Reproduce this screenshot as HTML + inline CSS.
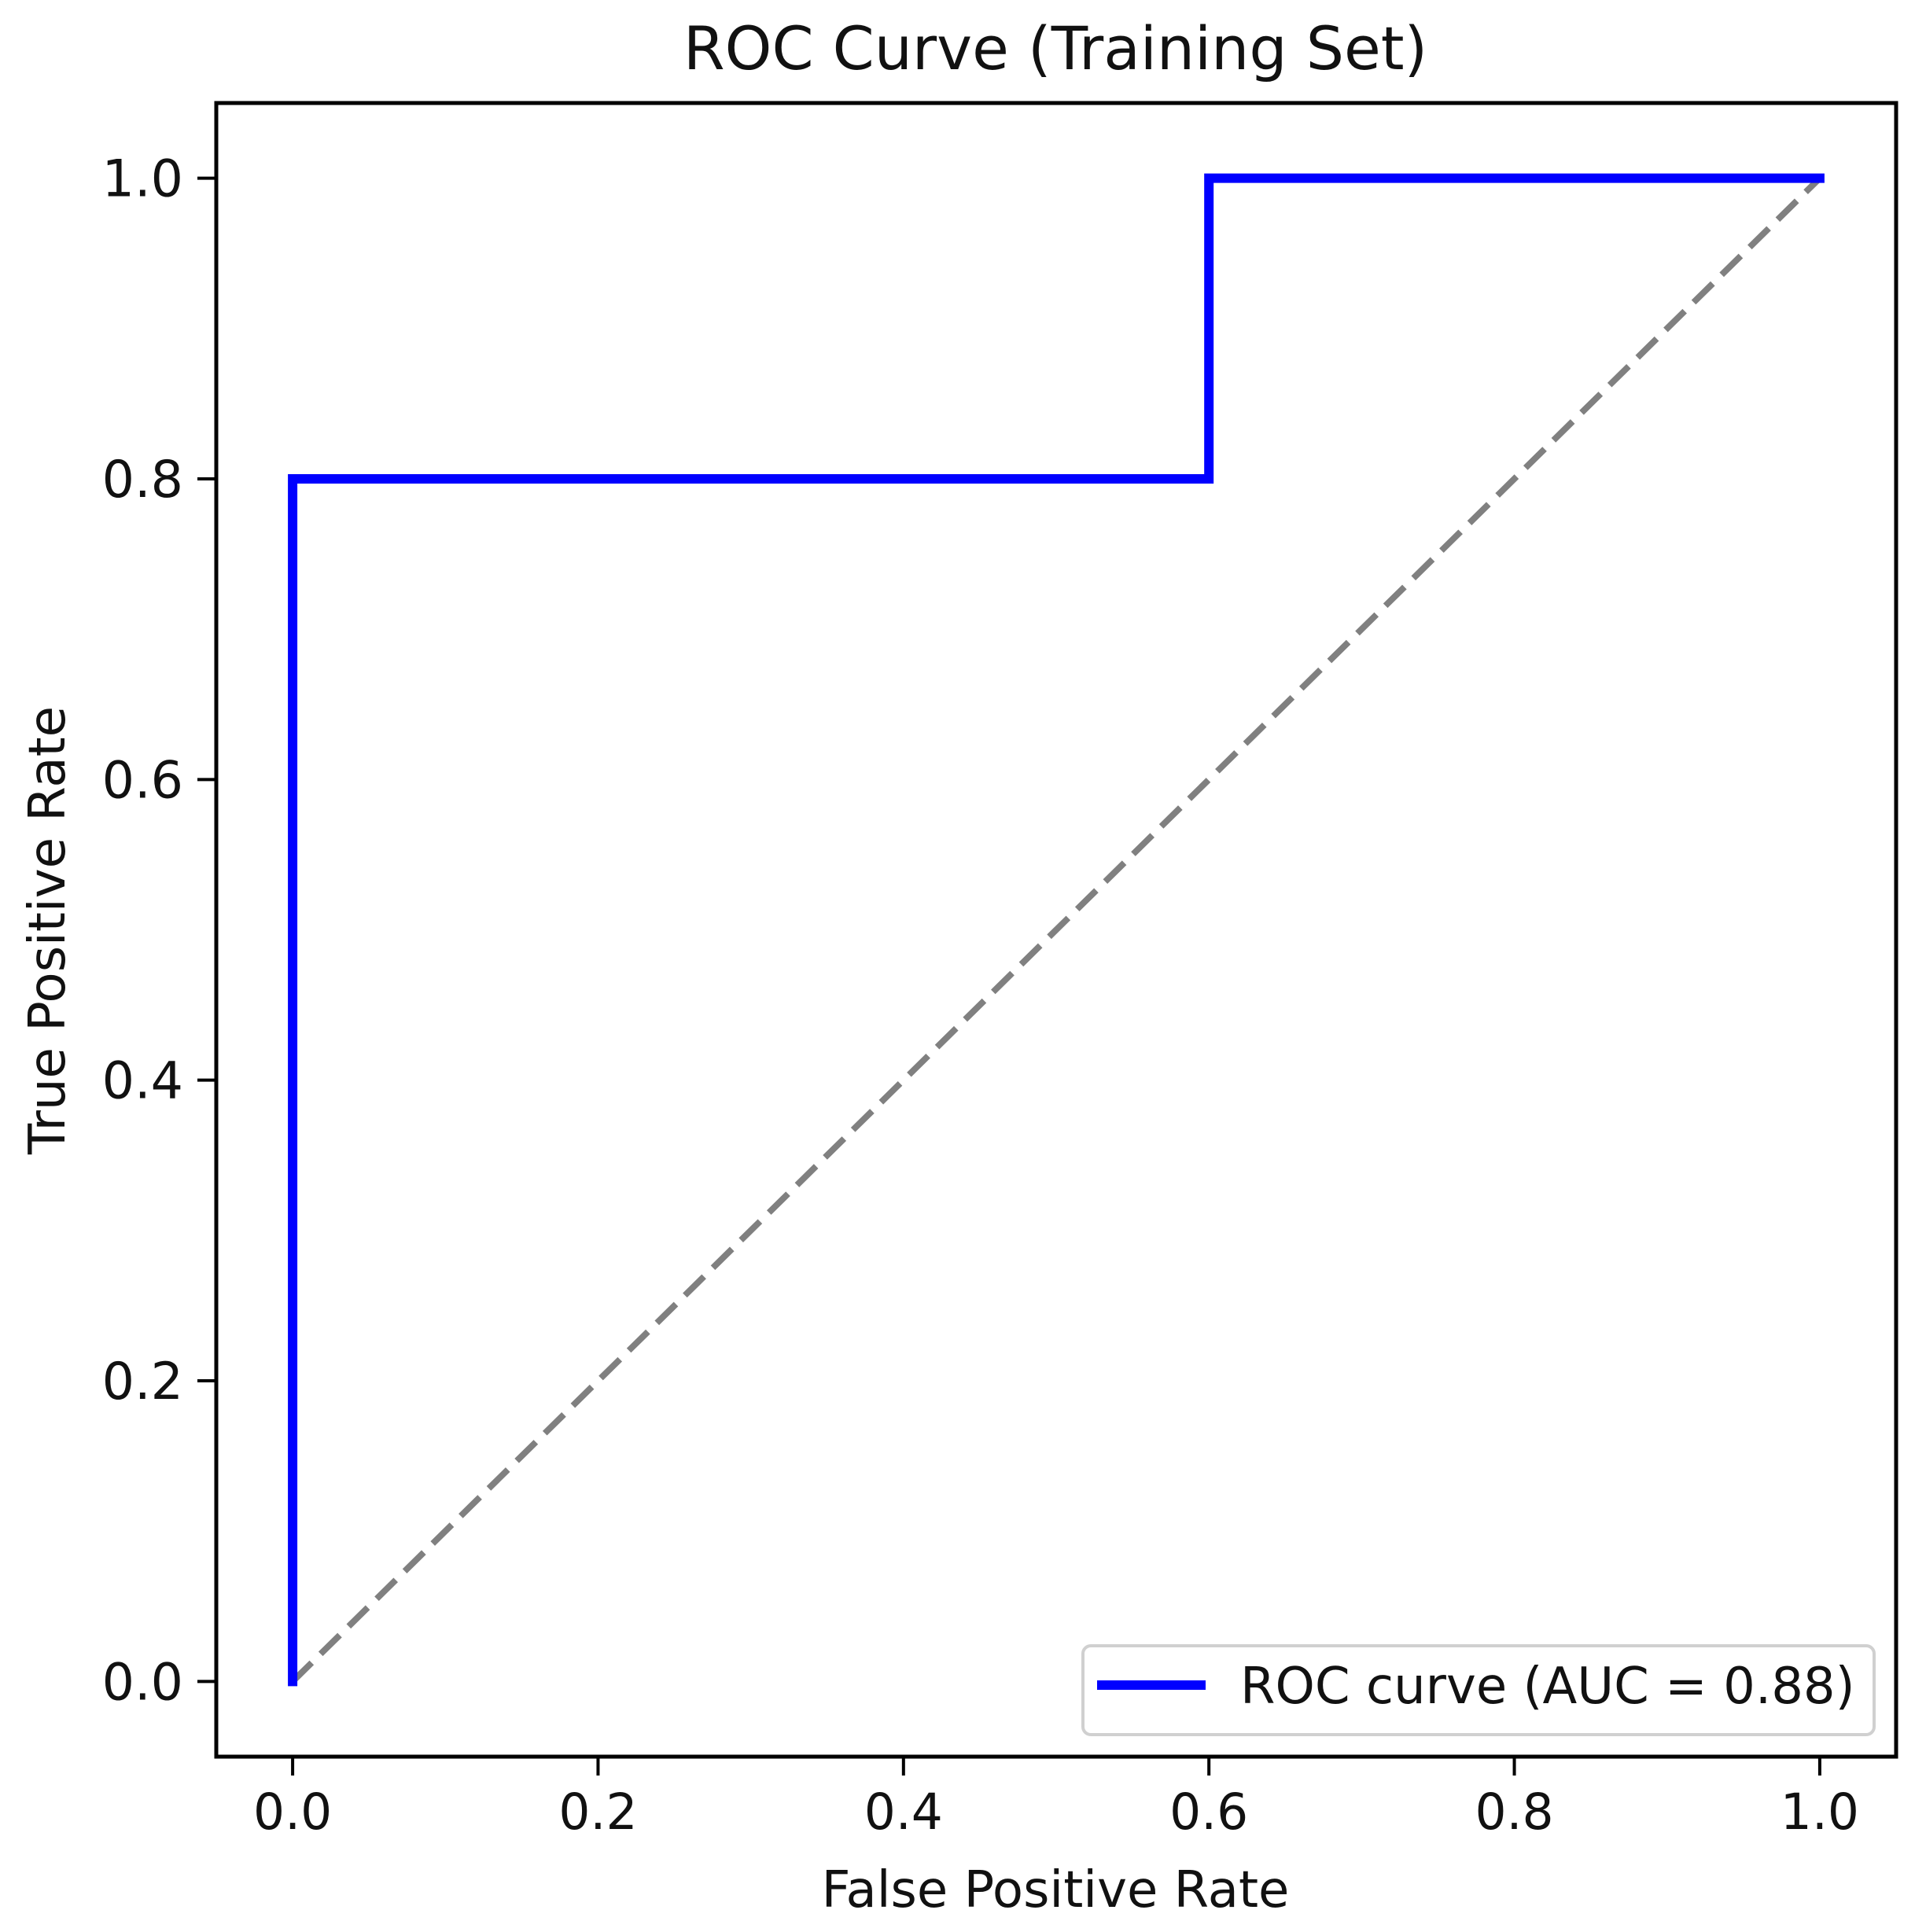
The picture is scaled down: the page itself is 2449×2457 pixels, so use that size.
<!DOCTYPE html>
<html><head><meta charset="utf-8"><style>
html,body{margin:0;padding:0;background:#fff;}
svg{display:block;font-family:"DejaVu Sans","Liberation Sans",sans-serif;}
</style></head><body>
<svg id="chart" width="2449" height="2457" viewBox="0 0 2449 2457">
<rect width="2449" height="2457" fill="#fff"/>
<text x="1342" y="88" font-size="76" text-anchor="middle" fill="#111">ROC Curve (Training Set)</text>
<g id="plot"></g>
<text x="1342" y="2425" font-size="64" text-anchor="middle" fill="#111">False Positive Rate</text>
<text transform="translate(82,1183) rotate(-90)" font-size="64" text-anchor="middle" fill="#111">True Positive Rate</text>
</svg>
<script>
const fpr = [0, 0, 0.6, 0.6, 1.0];
const tpr = [0, 0.8, 0.8, 1.0, 1.0];
const xTicks = [0, 0.2, 0.4, 0.6, 0.8, 1.0];
const yTicks = [0, 0.2, 0.4, 0.6, 0.8, 1.0];
const xTickLabels = ["0.0","0.2","0.4","0.6","0.8","1.0"];
const yTickLabels = ["0.0","0.2","0.4","0.6","0.8","1.0"];
const legendLabel = "ROC curve (AUC = 0.88)";

const NS = "http://www.w3.org/2000/svg";
const L = 275, R = 2411, T = 131, B = 2234;
const xs = v => L + (v + 0.05) / 1.1 * (R - L);
const ys = v => B - (v + 0.05) / 1.1 * (B - T);
const g = document.getElementById('plot');
function mk(tag, attrs, parent) {
  const e = document.createElementNS(NS, tag);
  for (const k in attrs) e.setAttribute(k, attrs[k]);
  (parent || g).appendChild(e);
  return e;
}
const diag = mk('line', {x1: xs(0), y1: ys(0), x2: xs(1), y2: ys(1), stroke: '#808080', 'stroke-width': 8, 'stroke-dasharray': '34 16'});


const pts = fpr.map((f, i) => xs(f) + ',' + ys(tpr[i])).join(' ');
const roc = mk('polyline', {points: pts, fill: 'none', stroke: '#0000ff', 'stroke-width': 12, 'stroke-linecap': 'square', 'stroke-linejoin': 'miter'});


const fr = mk('rect', {x: L, y: T, width: R - L, height: B - T, fill: 'none', stroke: '#000', 'stroke-width': 5});


xTicks.forEach((v, i) => {
  const t = mk('line', {x1: xs(v), y1: B, x2: xs(v), y2: B + 24, stroke: '#000', 'stroke-width': 4});
  
  
  const tx = mk('text', {x: xs(v), y: B + 92, 'font-size': 63, 'text-anchor': 'middle', fill: '#111'});
  
  
  tx.textContent = xTickLabels[i];
});
yTicks.forEach((v, i) => {
  const t = mk('line', {x1: L - 24, y1: ys(v), x2: L, y2: ys(v), stroke: '#000', 'stroke-width': 4});
  
  
  const tx = mk('text', {x: L - 42, y: ys(v) + 23, 'font-size': 65, 'text-anchor': 'end', fill: '#111'});
  
  
  tx.textContent = yTickLabels[i];
});
const lg = mk('g', {});


const lb = mk('rect', {x: 1377, y: 2093, width: 1006, height: 113, rx: 10, fill: '#fff', 'fill-opacity': 0.8, stroke: '#d0d0d0', 'stroke-width': 4}, lg);


const ll = mk('line', {x1: 1395, y1: 2143, x2: 1533, y2: 2143, stroke: '#0000ff', 'stroke-width': 12}, lg);


const lt = mk('text', {x: 1577, y: 2166, 'font-size': 64, fill: '#111'}, lg);


lt.textContent = legendLabel;
</script>
</body></html>
